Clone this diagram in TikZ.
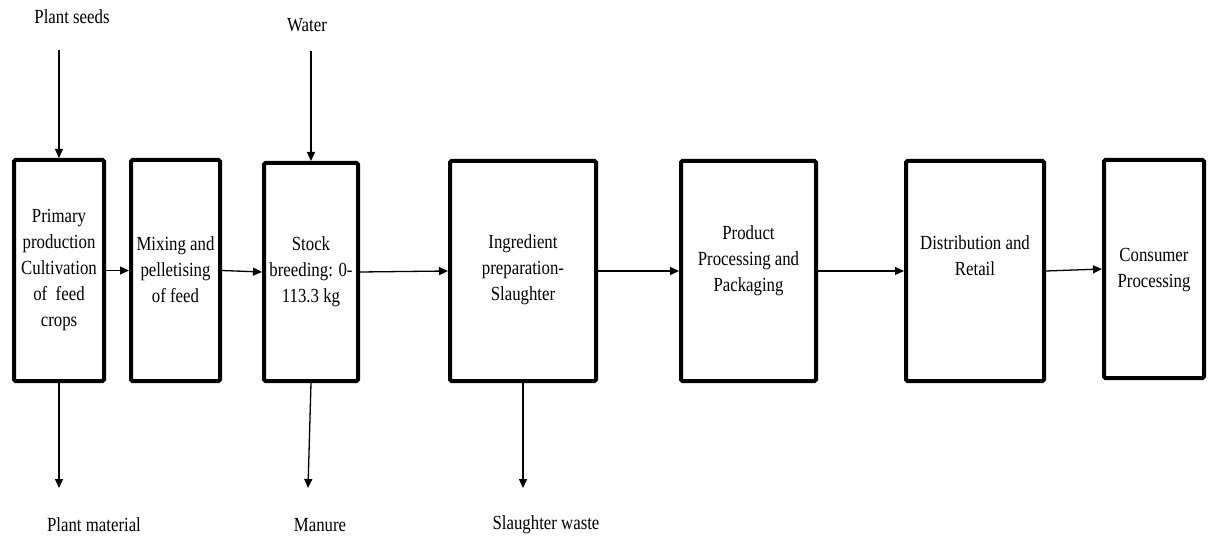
\documentclass[tikz,border=0pt]{standalone}
\usepackage{fontspec}
\setmainfont{Liberation Serif}[FakeStretch=0.84]
\usetikzlibrary{arrows.meta}
\begin{document}
\begin{tikzpicture}[x=1pt,y=-1pt,
  stage/.style={draw, line width=4pt, rounded corners=1.5pt, inner sep=0pt},
  lbl/.style={font=\fontsize{20}{26}\selectfont, align=center, inner sep=0pt},
  flow/.style={line width=1.3pt, -{Triangle[length=9pt,width=8pt]}}
]
\useasboundingbox (0,0) rectangle (1210,540);

% process stages
\node[stage, minimum width=90pt,  minimum height=221pt] (b1) at (59,270.5) {};
\node[stage, minimum width=89pt,  minimum height=221pt] (b2) at (175.5,270.5) {};
\node[stage, minimum width=94pt,  minimum height=218pt] (b3) at (311,272) {};
\node[stage, minimum width=146pt, minimum height=220pt] (b4) at (523,271) {};
\node[stage, minimum width=135pt, minimum height=220pt] (b5) at (748.5,271) {};
\node[stage, minimum width=138pt, minimum height=220pt] (b6) at (975,271) {};
\node[stage, minimum width=100pt, minimum height=218pt] (b7) at (1154,269) {};

% stage texts
\node[lbl] (t1) at (59,270) {Primary\\production\\Cultivation\\of\ \ feed\\crops};
\node[lbl] (t2) at (175.5,270) {Mixing and\\pelletising\\of feed};
\node[lbl] (t3) at (311,272) {Stock\\breeding: 0-\\113.3 kg};
\node[lbl] (t4) at (523,270) {Ingredient\\preparation-\\Slaughter};
\node[lbl] (t5) at (748.5,261) {Product\\Processing and\\Packaging};
\node[lbl] (t6) at (975,256) {Distribution and\\Retail};
\node[lbl] (t7) at (1154,270) {Consumer\\Processing};

% main chain
\draw[flow] (b1.east) -- (b2.west);
\draw[flow] (b2.east) -- (b3.west);
\draw[flow] (b3.east) -- (b4.west);
\draw[flow] (b4.east) -- (b5.west);
\draw[flow] (b5.east) -- (b6.west);
\draw[flow] (b6.east) -- (b7.west);

% inputs
\node[lbl] (seeds) at (72,17) {Plant seeds};
\node[lbl] (water) at (307,25) {Water};
\coordinate (s0) at (59,50);
\coordinate (w0) at (311,51);
\draw[flow] (s0) -- (b1.north);
\draw[flow] (w0) -- (b3.north);

% outputs
\coordinate (p1) at (59,488);
\coordinate (m1) at (308,488);
\coordinate (q1) at (523,488);
\draw[flow] (b1.south) -- (p1);
\draw[flow] (b3.south) -- (m1);
\draw[flow] (b4.south) -- (q1);
\node[lbl] (plantmat) at (94,525) {Plant material};
\node[lbl] (manure) at (320,525) {Manure};
\node[lbl] (waste) at (546,525) {Slaughter waste};
\end{tikzpicture}
\end{document}
